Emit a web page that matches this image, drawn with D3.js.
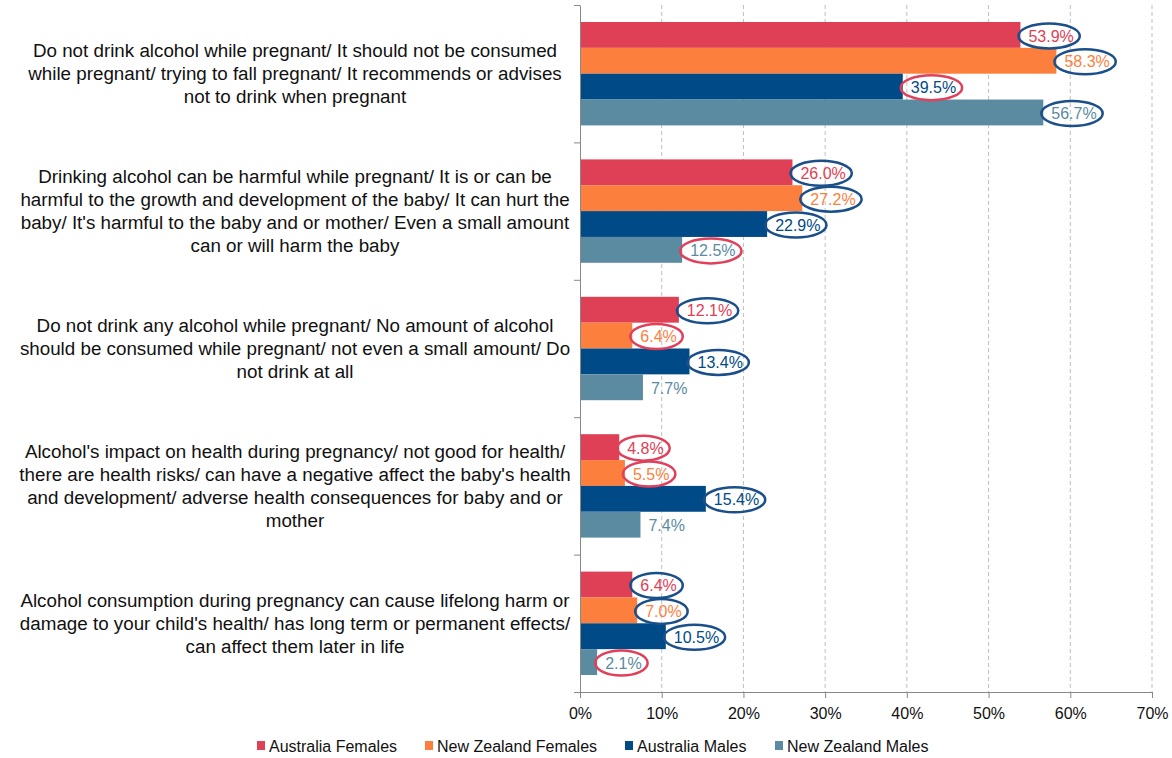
<!DOCTYPE html>
<html>
<head>
<meta charset="utf-8">
<script src="https://cdn.jsdelivr.net/npm/d3@7"></script>
<style>
  body { margin: 0; background: #fff; }
  text { font-family: "Liberation Sans", Arial, sans-serif; }
</style>
</head>
<body>
<script>
// categories, already broken into the lines used in the picture
var categories = [
    ["Do not drink alcohol while pregnant/ It should not be consumed",
     "while pregnant/ trying to fall pregnant/ It recommends or advises",
     "not to drink when pregnant"],
    ["Drinking alcohol can be harmful while pregnant/ It is or can be",
     "harmful to the growth and development of the baby/ It can hurt the",
     "baby/ It's harmful to the baby and or mother/ Even a small amount",
     "can or will harm the baby"],
    ["Do not drink any alcohol while pregnant/ No amount of alcohol",
     "should be consumed while pregnant/ not even a small amount/ Do",
     "not drink at all"],
    ["Alcohol's impact on health during pregnancy/ not good for health/",
     "there are health risks/ can have a negative affect the baby's health",
     "and development/ adverse health consequences for baby and or",
     "mother"],
    ["Alcohol consumption during pregnancy can cause lifelong harm or",
     "damage to your child's health/ has long term or permanent effects/",
     "can affect them later in life"]
];

var seriesNames = ["Australia Females", "New Zealand Females", "Australia Males", "New Zealand Males"];

var ausFemales = [53.9, 26.0, 12.1, 4.8, 6.4];
var nzFemales  = [58.3, 27.2, 6.4, 5.5, 7.0];
var ausMales   = [39.5, 22.9, 13.4, 15.4, 10.5];
var nzMales    = [56.7, 12.5, 7.7, 7.4, 2.1];

// hand-drawn rings round the value labels: b = blue ring, r = red ring, "" = none
var ausFemalesRing = ["b", "b", "b", "r", "b"];
var nzFemalesRing  = ["b", "b", "r", "r", "b"];
var ausMalesRing   = ["r", "b", "b", "b", "b"];
var nzMalesRing    = ["b", "r", "", "", "r"];

var xTicks = [0, 10, 20, 30, 40, 50, 60, 70];

var seriesValues = [ausFemales, nzFemales, ausMales, nzMales];
var seriesRings = [ausFemalesRing, nzFemalesRing, ausMalesRing, nzMalesRing];
var seriesColors = ["#DF4055", "#FD7F3E", "#004A87", "#5A8BA0"];
var ringColors = { b: "#1B4F8A", r: "#E0405A" };

var outerWidth = 1172;
var outerHeight = 758;
var plotLeft = 580, plotRight = 1152, plotTop = 5, plotBottom = 692;

var svg = d3.select("body")
    .append("svg")
    .attr("width", outerWidth)
    .attr("height", outerHeight);

var xScale = d3.scaleLinear()
    .domain([0, 70])
    .range([plotLeft, plotRight]);

var yScale = d3.scaleBand()
    .domain(d3.range(categories.length))
    .range([plotTop, plotBottom]);

var barScale = d3.scaleBand()
    .domain(seriesNames)
    .range([17, yScale.bandwidth() - 17]);

var edgeScale = d3.scaleLinear()
    .domain([0, categories.length])
    .range([plotTop, plotBottom]);

// rows: one per category and series
var rows = [];
categories.forEach(function(c, i) {
    seriesNames.forEach(function(s, j) {
        rows.push({ cat: i, series: s, idx: j, value: seriesValues[j][i], ring: seriesRings[j][i] });
    });
});

// grid lines
svg.append("g")
    .selectAll("line")
    .data(xTicks.slice(1))
    .enter()
    .append("line")
        .attr("x1", function(d) { return xScale(d); })
        .attr("x2", function(d) { return xScale(d); })
        .attr("y1", plotTop)
        .attr("y2", plotBottom)
        .attr("stroke", "#BFBFBF")
        .attr("stroke-dasharray", "4,3");

// bars
svg.append("g")
    .selectAll("rect")
    .data(rows)
    .enter()
    .append("rect")
        .attr("x", xScale(0))
        .attr("y", function(d) { return yScale(d.cat) + barScale(d.series); })
        .attr("width", function(d) { return xScale(d.value) - xScale(0); })
        .attr("height", barScale.bandwidth())
        .attr("fill", function(d) { return seriesColors[d.idx]; });

// x axis
var xAxis = svg.append("g")
    .attr("transform", "translate(0," + plotBottom + ")")
    .call(d3.axisBottom(xScale)
        .tickValues(xTicks)
        .tickSize(6)
        .tickSizeOuter(0)
        .tickPadding(10)
        .tickFormat(function(d) { return d + "%"; }));
xAxis.selectAll("path, line").attr("stroke", "#888");
xAxis.selectAll("text")
    .attr("font-size", 16)
    .attr("fill", "#111");

// y axis (ticks on the category edges)
var yAxis = svg.append("g")
    .attr("transform", "translate(" + plotLeft + ",0)")
    .call(d3.axisLeft(edgeScale)
        .ticks(categories.length)
        .tickSize(6)
        .tickSizeOuter(0)
        .tickFormat(""));
yAxis.selectAll("path, line").attr("stroke", "#888");

// category labels
var lineHeight = 23;
var catGroup = svg.append("g");
categories.forEach(function(lines, i) {
    var cy = yScale(i) + yScale.bandwidth() / 2;
    var t = catGroup.append("text")
        .attr("text-anchor", "middle")
        .attr("font-size", 18.8)
        .attr("fill", "#111");
    lines.forEach(function(line, k) {
        t.append("tspan")
            .attr("x", 295)
            .attr("y", cy + (k - (lines.length - 1) / 2) * lineHeight)
            .attr("dy", "0.35em")
            .text(line);
    });
});

// value labels and rings
var labelGroup = svg.append("g");
rows.forEach(function(d) {
    var cy = yScale(d.cat) + barScale(d.series) + barScale.bandwidth() / 2 + 1;
    var tx = xScale(d.value) + 8;
    var t = labelGroup.append("text")
        .attr("x", tx)
        .attr("y", cy)
        .attr("dy", "0.35em")
        .attr("font-size", 16)
        .attr("fill", seriesColors[d.idx])
        .text(d.value.toFixed(1) + "%");
    if (d.ring) {
        var w = t.node().getComputedTextLength();
        labelGroup.append("ellipse")
            .attr("cx", tx + w / 2 - 2)
            .attr("cy", cy)
            .attr("rx", w / 2 + 8)
            .attr("ry", 12.5)
            .attr("fill", "none")
            .attr("stroke", ringColors[d.ring])
            .attr("stroke-width", 2.5);
    }
});

// legend
var legendX = [257, 425, 625, 775];
var legend = svg.append("g");
seriesNames.forEach(function(s, j) {
    legend.append("rect")
        .attr("x", legendX[j])
        .attr("y", 741)
        .attr("width", 8)
        .attr("height", 9)
        .attr("fill", seriesColors[j]);
    legend.append("text")
        .attr("x", legendX[j] + 12)
        .attr("y", 746)
        .attr("dy", "0.35em")
        .attr("font-size", 16)
        .attr("fill", "#111")
        .text(s);
});
</script>
</body>
</html>
